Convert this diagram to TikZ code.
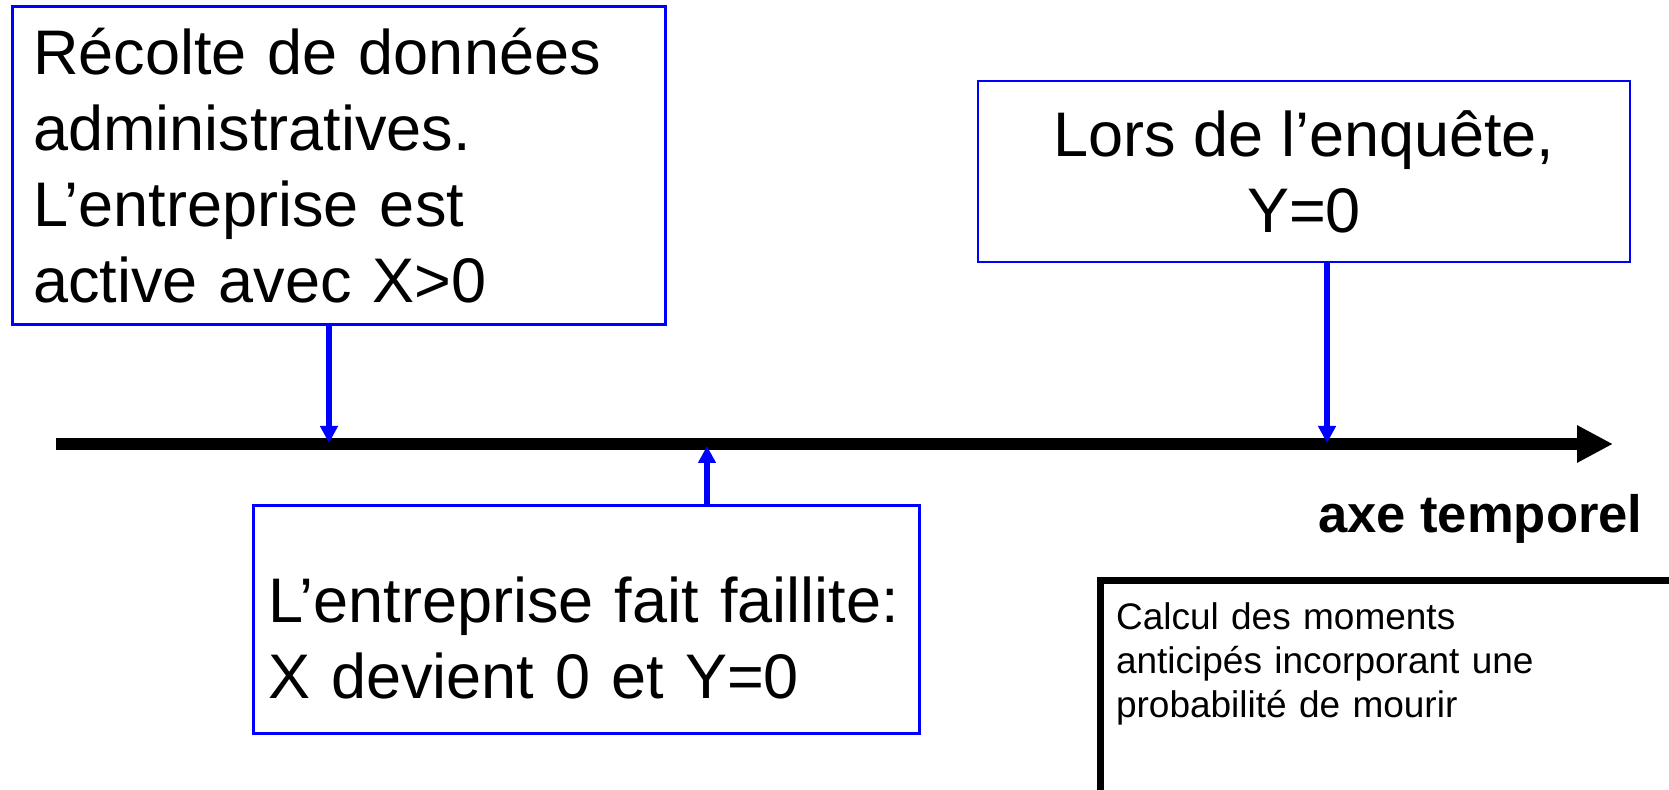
\documentclass[tikz,border=0pt]{standalone}
\usepackage{fontspec}
\setmainfont{Liberation Sans}
\usetikzlibrary{arrows.meta,positioning}
\definecolor{boxblue}{RGB}{0,0,255}

\begin{document}
\begin{tikzpicture}[x=0.5pt,y=-0.5pt,
  box/.style={draw=boxblue,line width=1.35pt,font=\fontsize{31.5}{38}\selectfont},
  arr/.style={-{Triangle[length=8.5pt,width=8.5pt]},line width=2.7pt,boxblue},
  axis/.style={-{Triangle[length=18pt,width=17.5pt]},line width=6pt},
  lab/.style={font=\bfseries\fontsize{26.3}{30}\selectfont,inner sep=0pt},
  note/.style={draw,line width=3.25pt,font=\fontsize{18.5}{22}\selectfont,align=left}]
  \path[use as bounding box,fill=white] (0,0) rectangle (1669,790);
  % time axis
  \coordinate (t0) at (56,444);
  \coordinate (t1) at (1613,444);
  \draw[axis] (t0) -- (t1);
  \node[lab,anchor=base east] (axe) at (1643,532) {axe temporel};
  % boxes
  \node[box,anchor=north west,text width=305.5pt,inner xsep=10.5pt,
        minimum height=159pt,align=left] (recolte) at (11,5)
    {Récolte de données\\administratives.\\L’entreprise est\\active avec X>0};
  \node[box,minimum width=326pt,minimum height=90.5pt,align=center] (enquete)
    at (1304,171.5) {Lors de l’enquête,\\Y=0};
  \node[box,anchor=north west,text width=318pt,inner xsep=7.5pt,
        minimum height=114pt,text height=41pt,align=left] (faillite) at (252,504)
    {L’entreprise fait faillite:\\X devient 0 et Y=0};
  \node[note,anchor=north west,text width=300pt,inner xsep=7.9pt,
        inner ysep=11.4pt,text depth=150pt] (calcul) at (1097,577)
    {Calcul des moments\\anticipés incorporant une\\probabilité de mourir};
  % events on the axis
  \coordinate (eA) at (329,443);
  \coordinate (eB) at (1327,443);
  \coordinate (eC) at (707,446);
  \draw[arr] (eA |- recolte.south) -- (eA);
  \draw[arr] (eB |- enquete.south) -- (eB);
  \draw[arr] (eC |- faillite.north) -- (eC);
\end{tikzpicture}
\end{document}
